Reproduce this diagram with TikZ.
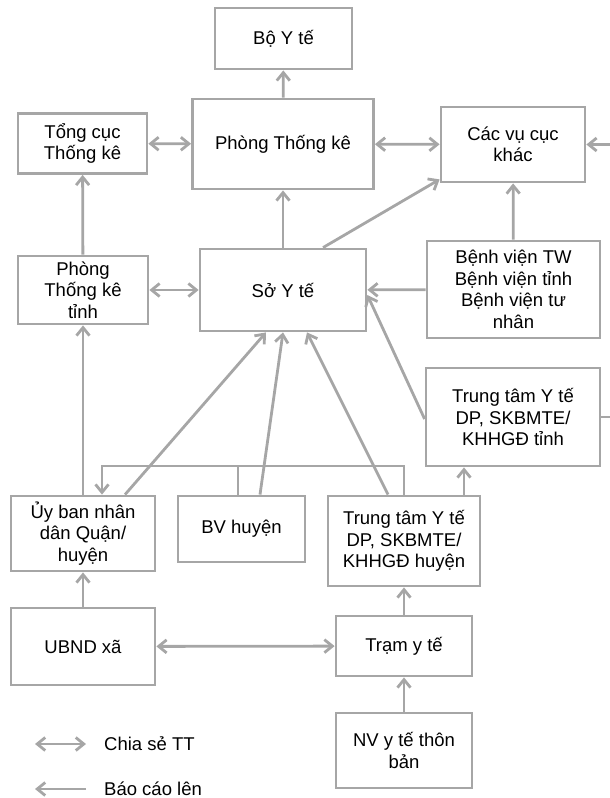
\documentclass[tikz,border=0pt]{standalone}
\usepackage{fontspec}
\setmainfont{Liberation Sans}
\usetikzlibrary{arrows.meta}
\definecolor{linegray}{RGB}{166,166,166}
\tikzset{
  box/.style={draw=linegray, line width=2.8pt, align=center, inner sep=2pt,
    text=black, font=\fontsize{18.5}{21.5}\selectfont},
  link/.style={draw=linegray, line width=2.8pt},
  barb/.tip={Straight Barb[length=8pt,width=13pt]},
  report/.style={link, -barb},
  share/.style={link, barb-barb},
  legendtext/.style={anchor=west, inner sep=0pt, text=black,
    font=\fontsize{18.5}{21.5}\selectfont}
}
\begin{document}
\begin{tikzpicture}[x=1pt,y=-1pt]
\useasboundingbox (0,0) rectangle (610,798);

% national level
\node[box, minimum width=137pt, minimum height=61pt] (boyte) at (283.5,38.5) {Bộ Y tế};
\node[box, minimum width=181pt, minimum height=90pt] (ptk) at (283,144) {Phòng Thống kê};
\node[box, minimum width=129pt, minimum height=60pt] (tongcuc) at (82.5,143.5) {Tổng cục\\Thống kê};
\node[box, minimum width=144pt, minimum height=75pt] (cacvu) at (513,144.5) {Các vụ cục\\khác};

% provincial level
\node[box, minimum width=130pt, minimum height=68pt] (ptkt) at (83,290) {Phòng\\Thống kê\\tỉnh};
\node[box, minimum width=166pt, minimum height=82pt] (soyte) at (283,290) {Sở Y tế};
\node[box, minimum width=173pt, minimum height=97pt] (bv) at (513.5,289.5) {Bệnh viện TW\\Bệnh viện tỉnh\\Bệnh viện tư\\nhân};
\node[box, minimum width=174pt, minimum height=98pt] (ttytt) at (513,417) {Trung tâm Y tế\\DP, SKBMTE/\\KHHGĐ tỉnh};

% district level
\node[box, minimum width=144pt, minimum height=75pt] (uyban) at (83,533.5) {Ủy ban nhân\\dân Quận/\\huyện};
\node[box, minimum width=127pt, minimum height=66pt] (bvh) at (241.5,529) {BV huyện};
\node[box, minimum width=152pt, minimum height=90pt] (ttyth) at (404,541) {Trung tâm Y tế\\DP, SKBMTE/\\KHHGĐ huyện};

% commune level
\node[box, minimum width=144pt, minimum height=77pt] (ubndxa) at (83,646.5) {UBND xã};
\node[box, minimum width=136pt, minimum height=60pt] (tram) at (404,646) {Trạm y tế};
\node[box, minimum width=136pt, minimum height=75pt] (nv) at (404,750.5) {NV y tế thôn\\bản};

% free ends running out to the right
\coordinate (outA) at (612,144.5);
\coordinate (outB) at (612,417);
% district collector line
\coordinate (bus) at (102,466);

% information sharing
\draw[share] (tongcuc) -- (ptk);
\draw[share] (ptk) -- (cacvu);
\draw[share] (ptkt) -- (soyte);
\draw[share] (ubndxa) -- (tram);

% reporting upward
\draw[report] (ptk) -- (boyte);
\draw[report] (soyte) -- (ptk);
\draw[report] (outA) -- (cacvu.east);
\draw[report] ([xshift=40pt]soyte.north) -- ([yshift=4pt]cacvu.south west);
\draw[report] (bv) -- (cacvu);
\draw[report] (bv) -- (soyte);
\draw[report] ([yshift=-2pt]ttytt.west) -- ([yshift=-5pt]soyte.east);
\draw[link] (ttytt.east) -- (outB);
\draw[report] (ptkt) -- (tongcuc);
\draw[report] (uyban.north) -- (ptkt.south);
\draw[report] ([xshift=42pt]uyban.north) -- ([xshift=-17pt]soyte.south);
\draw[report] ([xshift=18.5pt]bvh.north) -- (soyte.south);
\draw[report] ([xshift=-16pt]ttyth.north) -- ([xshift=24pt]soyte.south);
\draw[report] (ttyth.north) |- (bus) -- (bus |- uyban.north);
\draw[link] ([xshift=-3.5pt]bvh.north) -- ([xshift=-3.5pt]bvh.north |- bus);
\draw[report] ([xshift=60pt]ttyth.north) -- ([xshift=60pt]ttyth.north |- ttytt.south);
\draw[report] (tram) -- (ttyth);
\draw[report] (ubndxa) -- (uyban);
\draw[report] (nv) -- (tram);

% legend
\coordinate (la1) at (35,744);
\coordinate (lb1) at (86,744);
\coordinate (la2) at (35,789);
\coordinate (lb2) at (86,789);
\draw[share] (la1) -- (lb1);
\draw[report] (lb2) -- (la2);
\node[legendtext] (lt1) at (104,744) {Chia sẻ TT};
\node[legendtext] (lt2) at (104,789) {Báo cáo lên};
\end{tikzpicture}
\end{document}
